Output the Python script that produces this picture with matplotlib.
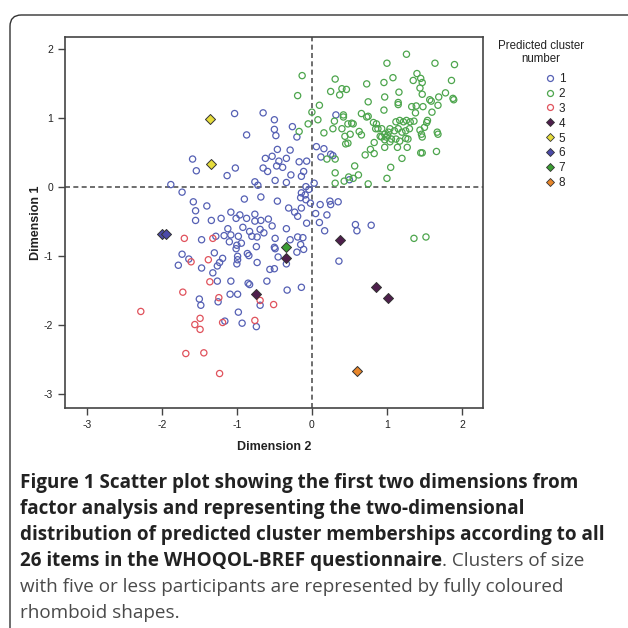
import matplotlib
matplotlib.use("Agg")
import matplotlib.pyplot as plt
from matplotlib.patches import FancyBboxPatch
from matplotlib.lines import Line2D

plt.rcParams['axes.unicode_minus'] = False

# cluster 1 (open blue circles)
c1_x = [-1.03, -0.65, -0.50, -0.26, -0.50, -0.48, -0.20, -0.87, -0.46, -0.29,
        -0.53, -0.62, -0.44, -0.34, -0.17, -0.07, -0.47, -0.39, -0.65, -0.59,
        -0.11, -0.28, -0.14, -0.49, -0.34, -0.76, -0.72, -1.02, -1.13, -1.59,
        -1.54, -1.88, -1.73, 0.06, 0.16, 0.12, 0.25, 0.28, 0.50, 0.03,
        0.32, -0.08, -0.04, -0.14, -0.09, -0.15, -0.08, -0.02, 0.11, -0.07,
        0.24, 0.35, 0.25, 0.05, 0.20, 0.10, 0.17, 0.58, 0.79, 0.60,
        0.36, -1.58, -1.55, -1.40, -1.55, -1.34, -1.21, -0.90, -0.68, -0.46,
        -1.08, -1.01, -0.96, -0.87, -0.76, -0.76, -0.68, -0.58, -0.31, -0.23,
        -0.14, -0.19, -0.53, -0.92, -1.12, -0.83, -0.69, -1.08, -1.17, -1.28,
        -0.98, -0.80, -0.73, -0.64, -0.49, -1.47, -1.10, -1.00, -0.94, -1.01,
        -0.74, -0.50, -0.49, -0.29, -0.19, -0.12, -0.15, -0.11, -0.20, -0.45,
        -0.86, -0.84, -0.99, -0.99, -1.00, -0.73, -0.56, -0.50, -0.34, -1.30,
        -1.19, -1.23, -1.26, -1.64, -1.73, -1.78, -1.47, -1.32, -1.26, -1.08,
        -0.85, -0.83, -0.60, -0.14, -1.09, -0.99, -1.50, -1.48, -1.25, -0.98,
        -1.16, -0.93, -0.74, -0.69, -0.33, -0.34]
c1_y = [1.06, 1.07, 0.97, 0.87, 0.83, 0.74, 0.72, 0.75, 0.54, 0.53,
        0.44, 0.41, 0.37, 0.41, 0.36, 0.37, 0.30, 0.28, 0.27, 0.22,
        0.22, 0.17, 0.15, 0.09, 0.06, 0.07, 0.02, 0.27, 0.16, 0.40,
        0.23, 0.03, -0.08, 0.58, 0.55, 0.43, 0.47, 0.45, 0.10, 0.05,
        1.04, 0.00, -0.04, -0.09, -0.12, -0.16, -0.19, -0.24, -0.26, -0.53,
        -0.21, -0.22, -0.26, -0.39, -0.41, -0.52, -0.64, -0.55, -0.56, -0.64,
        -1.08, -0.22, -0.35, -0.28, -0.49, -0.49, -0.46, -0.18, -0.15, -0.21,
        -0.37, -0.46, -0.41, -0.46, -0.40, -0.50, -0.49, -0.47, -0.31, -0.37,
        -0.31, -0.43, -0.57, -0.59, -0.61, -0.65, -0.62, -0.70, -0.71, -0.72,
        -0.72, -0.72, -0.73, -0.67, -0.75, -0.77, -0.80, -0.85, -0.82, -0.90,
        -0.87, -0.88, -0.90, -0.77, -0.73, -0.74, -0.84, -0.91, -0.95, -1.02,
        -0.97, -1.00, -1.01, -1.06, -1.12, -1.10, -1.20, -1.19, -1.12, -0.96,
        -1.04, -1.10, -1.15, -1.05, -0.98, -1.14, -1.18, -1.25, -1.37, -1.37,
        -1.40, -1.42, -1.37, -1.46, -1.56, -1.56, -1.63, -1.72, -1.67, -1.82,
        -1.95, -1.98, -2.03, -1.72, -1.50, -0.61]

# cluster 2 (open green circles)
c2_x = [1.26, 1.00, 1.64, 1.90, 0.31, 1.08, 1.40, 1.45, 1.35, 1.86,
        1.47, 0.96, 0.73, 0.25, 0.40, 0.46, 0.37, 1.44, 1.16, 1.47,
        1.78, 0.97, 0.75, 1.15, 1.15, 1.33, 1.39, 1.48, 1.57, 1.59,
        1.68, 1.69, 1.88, 1.89, 0.10, 0.96, 1.38, 0.66, 0.75, 0.42,
        -0.13, -0.19, 0.00, -0.05, -0.17, 0.08, 0.16, 0.28, 0.30, 0.42,
        0.48, 0.53, 0.40, 0.44, 0.51, 0.45, 0.48, 0.63, 0.66, 0.73,
        0.82, 0.85, 0.91, 0.93, 0.97, 0.99, 1.02, 1.12, 1.17, 1.22,
        1.26, 1.31, 1.36, 1.10, 1.15, 1.20, 1.25, 1.30, 1.06, 1.12,
        1.17, 1.25, 1.28, 1.04, 1.14, 1.27, 1.44, 1.46, 1.47, 1.54,
        1.67, 1.68, 1.45, 1.47, 1.66, 0.83, 0.78, 0.71, 0.83, 0.97,
        1.20, 1.05, 0.57, 0.62, 0.55, 0.49, 0.43, 0.31, 0.31, 0.75,
        1.00, 0.31, 0.20, 1.50, 1.53, 0.93, 0.97, 1.01, 1.04, 0.88,
        0.86, 0.55, 1.60, 1.36, 1.52]
c2_y = [1.92, 1.79, 1.79, 1.77, 1.56, 1.58, 1.64, 1.57, 1.54, 1.54,
        1.51, 1.51, 1.49, 1.38, 1.42, 1.41, 1.33, 1.43, 1.37, 1.34,
        1.36, 1.30, 1.23, 1.22, 1.19, 1.16, 1.17, 1.16, 1.26, 1.24,
        1.18, 1.30, 1.28, 1.26, 1.18, 1.11, 1.07, 1.06, 1.02, 1.04,
        1.61, 1.32, 1.08, 0.91, 0.80, 0.97, 0.78, 0.84, 0.95, 1.01,
        0.91, 0.92, 0.84, 0.73, 0.76, 0.62, 0.63, 0.80, 0.75, 1.01,
        0.93, 0.84, 0.73, 0.72, 0.68, 0.72, 0.79, 0.94, 0.96, 0.94,
        0.96, 0.94, 0.95, 0.81, 0.84, 0.79, 0.81, 0.84, 0.69, 0.69,
        0.66, 0.70, 0.69, 0.65, 0.57, 0.57, 0.82, 0.76, 0.72, 0.96,
        0.79, 0.76, 0.49, 0.49, 0.51, 0.64, 0.54, 0.46, 0.48, 0.57,
        0.41, 0.28, 0.30, 0.17, 0.12, 0.14, 0.08, 0.20, 0.05, 0.04,
        0.12, 0.40, 0.40, 0.86, 0.93, 0.84, 0.76, 0.74, 0.84, 0.84,
        0.91, 0.91, 1.08, -0.75, -0.73]

# cluster 3 (open red circles)
c3_x = [-1.70, -1.32, -1.38, -1.61, -1.36, -1.72, -2.28, -1.24, -1.49, -1.56,
        -1.49, -1.19, -0.76, -0.69, -0.51, -1.68, -1.44, -1.23]
c3_y = [-0.75, -0.75, -1.06, -1.09, -1.38, -1.53, -1.81, -1.61, -1.91, -2.00,
        -2.07, -1.97, -1.94, -1.65, -1.71, -2.42, -2.41, -2.71]

# small clusters (filled diamonds)
c4_x = [-0.34, -0.74, 0.38, 0.85, 1.01]
c4_y = [-1.03, -1.55, -0.77, -1.45, -1.62]
c5_x = [-1.36, -1.35]
c5_y = [0.98, 0.33]
c6_x = [-2.00, -1.94]
c6_y = [-0.69, -0.69]
c7_x = [-0.34]
c7_y = [-0.88]
c8_x = [0.60]
c8_y = [-2.68]

open_colors = ['#5560b4', '#4da54d', '#e0525c']
filled_colors = ['#4e1f4c', '#e6dc3c', '#4b4aa8', '#3c9e34', '#e8862a']
cluster_labels = ['1', '2', '3', '4', '5', '6', '7', '8']

W = 628
fig = plt.figure(figsize=(6.28, 6.28), dpi=100)

# rounded frame of the figure panel
frame = FancyBboxPatch((10 / W, -0.1), 1.2, 0.1 + (W - 15) / W,
                       boxstyle="round,pad=0,rounding_size=0.018",
                       transform=fig.transFigure, fill=False,
                       edgecolor='#333333', linewidth=1.0)
fig.patches.append(frame)

ax = fig.add_axes([65 / W, 1 - 408 / W, 418 / W, 371 / W])

for xs, ys, col in [(c1_x, c1_y, open_colors[0]),
                    (c2_x, c2_y, open_colors[1]),
                    (c3_x, c3_y, open_colors[2])]:
    ax.scatter(xs, ys, s=20, facecolors='none', edgecolors=col,
               linewidths=0.9, zorder=3)

for xs, ys, col in [(c4_x, c4_y, filled_colors[0]),
                    (c5_x, c5_y, filled_colors[1]),
                    (c6_x, c6_y, filled_colors[2]),
                    (c7_x, c7_y, filled_colors[3]),
                    (c8_x, c8_y, filled_colors[4])]:
    ax.scatter(xs, ys, s=26, marker='D', facecolors=col,
               edgecolors='#333333', linewidths=0.7, zorder=4)

ax.axhline(0, color='#555555', lw=1.2, ls=(0, (3, 2)), zorder=2)
ax.axvline(0, color='#555555', lw=1.2, ls=(0, (3, 2)), zorder=2)

ax.set_xlim(-3.29, 2.28)
ax.set_ylim(-3.21, 2.17)
ax.set_xticks([-3, -2, -1, 0, 1, 2])
ax.set_yticks([-3, -2, -1, 0, 1, 2])
for sp in ax.spines.values():
    sp.set_color('#444444')
    sp.set_linewidth(1.2)
ax.tick_params(direction='out', length=5, width=1.0, color='#444444',
               labelsize=7.5, labelcolor='#222222')
for lbl in ax.get_xticklabels() + ax.get_yticklabels():
    lbl.set_family('Liberation Sans')
ax.set_xlabel('Dimension 2', fontsize=9, fontweight='bold',
              family='Liberation Sans', color='#222222', labelpad=8)
ax.set_ylabel('Dimension 1', fontsize=9, fontweight='bold',
              family='Liberation Sans', color='#222222', labelpad=1)

# legend
fig.text(541 / W, 1 - 52.5 / W, 'Predicted cluster\nnumber', ha='center',
         va='center', multialignment='center', fontsize=8.3,
         family='Liberation Sans', color='#222222', linespacing=1.15)
handles = []
for c in open_colors:
    handles.append(Line2D([], [], ls='none', marker='o', markersize=4.3,
                          markerfacecolor='none', markeredgecolor=c,
                          markeredgewidth=0.9))
for c in filled_colors:
    handles.append(Line2D([], [], ls='none', marker='D', markersize=4.3,
                          markerfacecolor=c, markeredgecolor='#333333',
                          markeredgewidth=0.6))
leg = fig.legend(handles, cluster_labels,
                 loc='upper left', bbox_to_anchor=(541 / W, 1 - 68 / W),
                 frameon=False, handlelength=0.8, handletextpad=0.3,
                 labelspacing=0.25, borderaxespad=0,
                 prop={'family': 'Liberation Sans', 'size': 8.5})
for t in leg.get_texts():
    t.set_color('#222222')

# caption
caption = [
    [("Figure 1 Scatter plot showing the first two dimensions from", 'bold')],
    [("factor analysis and representing the two-dimensional", 'bold')],
    [("distribution of predicted cluster memberships according to all", 'bold')],
    [("26 items in the WHOQOL-BREF questionnaire", 'bold'),
     (". Clusters of size", 'normal')],
    [("with five or less participants are represented by fully coloured", 'normal')],
    [("rhomboid shapes.", 'normal')],
]
fig.canvas.draw()
renderer = fig.canvas.get_renderer()
y0 = 1 - 488 / W
step = 26 / W
for i, runs in enumerate(caption):
    x = 20 / W
    for txt, weight in runs:
        col = '#222222' if weight == 'bold' else '#4a4a4a'
        t = fig.text(x, y0 - i * step, txt, fontsize=13.6, fontweight=weight,
                     family='Open Sans', color=col, ha='left',
                     va='baseline')
        bb = t.get_window_extent(renderer)
        x = bb.x1 / (W)

fig.savefig('out.png', dpi=100)
